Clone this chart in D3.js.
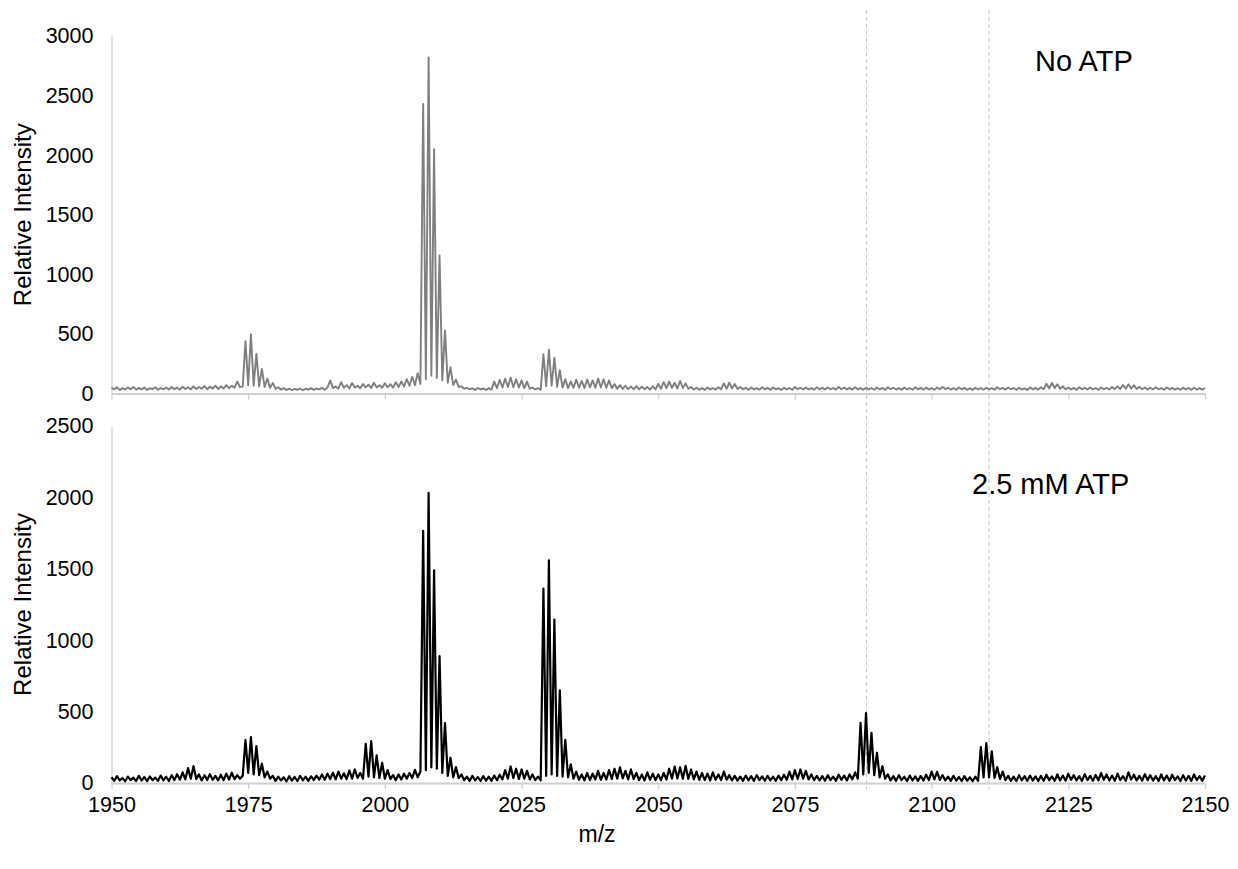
<!DOCTYPE html>
<html>
<head>
<meta charset="utf-8">
<script src="https://cdn.jsdelivr.net/npm/d3@7"></script>
<style>
  body { margin: 0; background: #fff; }
  text { font-family: "Liberation Sans", Arial, Helvetica, sans-serif; fill: #000; }
</style>
</head>
<body>
<script>
// spectra sampled every 0.5 m/z starting at 1950 (401 points each)
const mzStart = 1950, mzStep = 0.5;

const noATP = [
  48,35,52,30,45,33,50,36,55,32,47,34,51,30,44,36,53,31,46,35,
  50,33,55,36,49,32,57,38,52,34,60,37,55,40,62,36,58,41,66,38,
  60,42,70,45,64,48,100,55,58,438,70,497,65,335,60,206,55,125,48,89,
  40,52,32,45,30,40,28,38,30,42,27,40,33,45,30,42,35,48,32,50,
  110,45,60,40,95,48,70,42,88,50,65,44,80,52,75,46,90,50,70,48,
  85,52,78,50,95,55,100,60,120,65,140,70,170,80,2430,120,2820,150,2050,130,
  1160,110,530,90,220,70,117,55,60,40,48,35,44,30,46,34,42,30,45,33,
  100,45,115,50,125,55,135,52,120,50,110,45,100,40,50,34,45,32,329,60,
  368,65,301,55,195,50,120,45,100,48,115,50,105,46,118,52,110,48,125,50,
  120,48,110,45,80,40,70,38,65,36,60,35,62,34,58,36,55,33,60,35,
  80,40,95,45,100,48,90,42,105,46,85,40,55,33,48,32,45,30,50,34,
  46,33,52,36,85,40,92,42,80,38,55,35,48,32,50,34,45,31,52,35,
  47,32,50,35,44,30,49,34,46,31,55,36,48,33,50,34,45,31,52,36,
  48,33,51,35,46,32,55,36,50,34,47,33,52,35,45,31,49,34,46,32,
  50,35,47,32,53,36,48,33,45,31,50,34,46,32,52,35,47,33,49,34,
  46,32,50,35,54,37,48,33,46,31,51,35,47,32,44,30,48,34,46,31,
  49,34,45,31,52,36,47,33,50,35,46,31,48,34,44,30,50,35,47,33,
  52,36,82,42,88,45,78,40,60,36,50,34,47,32,52,35,48,33,50,34,
  46,32,51,35,48,33,55,36,60,38,72,40,78,42,70,38,56,35,50,33,
  48,34,52,35,46,32,50,35,47,33,45,31,49,34,46,32,48,33,45,32,
  46
];

const atp25 = [
  40,15,48,18,35,12,45,20,38,14,50,17,42,13,46,20,38,15,52,18,
  44,14,55,20,62,22,75,25,104,30,118,28,60,18,55,20,62,22,50,18,
  58,20,65,24,72,26,55,30,50,303,70,321,60,258,55,135,40,80,30,50,
  15,45,18,40,12,48,16,42,14,50,18,44,15,47,20,52,24,60,22,65,
  28,72,25,80,30,68,26,88,30,95,35,70,30,275,45,293,40,193,35,142,
  30,90,28,55,20,60,25,65,30,70,35,92,40,80,1766,90,2032,110,1490,100,
  889,70,419,50,177,40,111,35,60,20,45,15,50,18,42,14,48,16,44,15,
  52,20,58,25,90,30,116,35,100,28,95,30,85,25,60,20,45,18,1362,50,
  1560,60,1144,50,649,45,303,40,130,30,80,22,60,18,70,20,65,25,85,22,
  70,24,90,28,100,30,110,32,85,25,95,28,70,20,60,18,75,22,65,20,
  60,20,70,24,100,30,115,32,110,30,120,28,95,25,80,22,70,20,65,18,
  75,22,60,20,80,24,55,18,50,16,45,15,52,18,48,15,55,20,46,16,
  50,18,44,15,52,20,58,22,80,25,90,28,95,30,85,25,60,20,50,18,
  48,16,55,20,45,15,58,22,52,18,60,25,75,30,422,60,489,70,352,55,
  212,40,118,30,60,18,48,15,55,20,44,14,52,18,46,15,50,17,58,20,
  80,25,78,22,55,18,45,15,50,16,42,14,48,16,40,13,45,15,251,40,
  279,40,221,35,111,28,80,20,50,15,45,14,55,18,48,15,52,17,46,14,
  50,16,58,20,47,15,60,18,52,16,65,22,55,18,48,15,62,20,50,16,
  56,18,70,22,60,18,52,15,66,20,48,15,75,24,58,18,50,16,62,20,
  55,17,48,14,60,18,52,15,58,20,46,14,55,17,50,15,60,20,48,15,
  52
];

const xTicks = [1950, 1975, 2000, 2025, 2050, 2075, 2100, 2125, 2150];
const topTicks = [0, 500, 1000, 1500, 2000, 2500, 3000];
const bottomTicks = [0, 500, 1000, 1500, 2000, 2500];
const markers = [2088.1, 2110.5];
const labels = ["No ATP", "2.5 mM ATP"];

const width = 1238, height = 869;
const svg = d3.select("body").append("svg")
  .attr("width", width)
  .attr("height", height);

const x = d3.scaleLinear().domain([1950, 2150]).range([111.5, 1205]);
const fmt = d3.format("d");

const panels = [
  { data: noATP, max: 3000, ticks: topTicks, y0: 393.5, y1: 36, color: "#7f7f7f", lw: 1.9, label: labels[0], lx: 1035, ly: 71, showX: false },
  { data: atp25, max: 2500, ticks: bottomTicks, y0: 783, y1: 426, color: "#000", lw: 2.2, label: labels[1], lx: 972, ly: 494, showX: true }
];

// dashed marker lines across both panels
svg.selectAll("line.marker")
  .data(markers).enter()
  .append("line")
  .attr("class", "marker")
  .attr("x1", d => x(d)).attr("x2", d => x(d))
  .attr("y1", 10).attr("y2", 790)
  .attr("stroke", "#c4c4c4")
  .attr("stroke-width", 1)
  .attr("stroke-dasharray", "4,3");

panels.forEach(p => {
  const y = d3.scaleLinear().domain([0, p.max]).range([p.y0, p.y1]);
  const g = svg.append("g");

  // y axis: only a plain line and labels
  const ya = g.append("g")
    .attr("transform", `translate(${x.range()[0]},0)`)
    .call(d3.axisLeft(y).tickValues(p.ticks).tickSize(0).tickPadding(18).tickFormat(fmt));
  ya.select(".domain").attr("stroke", "#d0d0d0").attr("stroke-width", 1.3);
  ya.selectAll("text").style("font-size", "21.5px").attr("fill", "#000");

  // x axis with small ticks downward
  const xa = g.append("g")
    .attr("transform", `translate(0,${p.y0})`)
    .call(d3.axisBottom(x).tickValues(xTicks).tickSize(6).tickSizeOuter(0).tickPadding(8).tickFormat(fmt));
  xa.select(".domain").attr("stroke", "#d0d0d0").attr("stroke-width", 2);
  xa.selectAll(".tick line").attr("stroke", "#d0d0d0").attr("stroke-width", 1.3);
  xa.selectAll("text").style("font-size", "21.5px").attr("fill", "#000");
  if (!p.showX) xa.selectAll("text").remove();

  const line = d3.line()
    .x((d, i) => x(mzStart + i * mzStep))
    .y(d => y(d));

  g.append("path")
    .datum(p.data)
    .attr("d", line)
    .attr("fill", "none")
    .attr("stroke", p.color)
    .attr("stroke-width", p.lw)
    .attr("stroke-linejoin", "round");

  g.append("text")
    .attr("transform", `translate(31,${(p.y0 + p.y1) / 2}) rotate(-90)`)
    .attr("text-anchor", "middle")
    .style("font-size", "24px")
    .text("Relative Intensity");

  g.append("text")
    .attr("x", p.lx).attr("y", p.ly)
    .style("font-size", "29px")
    .text(p.label);
});

svg.append("text")
  .attr("x", 597).attr("y", 842)
  .attr("text-anchor", "middle")
  .style("font-size", "23px")
  .text("m/z");
</script>
</body>
</html>
